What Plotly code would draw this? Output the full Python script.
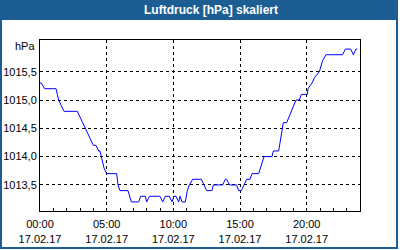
import plotly.graph_objects as go

title_text = "Luftdruck [hPa] skaliert"
unit_label = "hPa"
day = "2017-02-17"

times = [
    "00:00", "00:06", "00:21", "01:12", "01:18", "01:24", "01:36", "01:48", "02:48", "03:00",
    "03:12", "03:21", "03:33", "03:45", "04:00", "04:12", "04:24", "04:30", "04:36", "04:42",
    "04:48", "05:00", "05:45", "05:51", "06:00", "06:36", "06:51", "07:24", "07:33", "07:54",
    "08:00", "08:12", "09:00", "09:12", "09:24", "09:42", "09:54", "10:03", "10:12", "10:24",
    "10:30", "10:39", "10:54", "11:03", "11:12", "11:27", "12:06", "12:18", "12:30", "12:54",
    "13:00", "13:42", "13:54", "14:00", "14:12", "14:45", "14:54", "15:06", "15:18", "15:30",
    "15:45", "15:54", "16:24", "16:48", "17:24", "17:30", "17:54", "18:15", "18:30", "19:12",
    "19:27", "19:36", "20:03", "20:06", "20:24", "20:36", "20:57", "21:03", "21:12", "21:27",
    "22:42", "22:54", "23:18", "23:30", "23:42", "23:48",
]
pressure = [
    1015.3, 1015.3, 1015.2, 1015.2, 1015.1, 1015.0, 1014.9, 1014.8, 1014.8, 1014.7,
    1014.6, 1014.5, 1014.4, 1014.3, 1014.2, 1014.2, 1014.1, 1014.1, 1014.0, 1013.9,
    1013.8, 1013.7, 1013.7, 1013.5, 1013.4, 1013.4, 1013.2, 1013.2, 1013.3, 1013.3,
    1013.2, 1013.3, 1013.3, 1013.2, 1013.3, 1013.3, 1013.2, 1013.3, 1013.3, 1013.2,
    1013.3, 1013.2, 1013.2, 1013.4, 1013.5, 1013.6, 1013.6, 1013.5, 1013.4, 1013.4,
    1013.5, 1013.5, 1013.6, 1013.6, 1013.5, 1013.5, 1013.4, 1013.4, 1013.5, 1013.6,
    1013.6, 1013.7, 1013.7, 1014.0, 1014.0, 1014.1, 1014.1, 1014.6, 1014.6, 1015.0,
    1015.0, 1015.1, 1015.1, 1015.2, 1015.3, 1015.4, 1015.5, 1015.6, 1015.7, 1015.8,
    1015.8, 1015.9, 1015.9, 1015.8, 1015.9, 1015.9,
]

y_ticks = [1013.5, 1014.0, 1014.5, 1015.0, 1015.5]

W, H = 400, 250
ML, MR, MT, MB = 40, 40, 40, 39
PW, PH = W - ML - MR, H - MT - MB


def px(xp):
    return (xp - ML) / PW


def py(yp):
    return (H - MB - yp) / PH


BLUE = "#1c5e94"
FONT = "Liberation Sans"

x_vals = [f"{day} {t}" for t in times]

fig = go.Figure()
fig.add_trace(go.Scatter(x=x_vals, y=pressure, mode="lines",
                         line=dict(color="#0000ff", width=1), hoverinfo="skip"))

fig.update_layout(
    width=W, height=H,
    margin=dict(l=ML, r=MR, t=MT, b=MB, pad=0, autoexpand=False),
    paper_bgcolor="white", plot_bgcolor="white",
    showlegend=False,
    separators=",.",
    font=dict(family=FONT, size=11, color="black"),
)

fig.update_xaxes(
    type="date", automargin=False,
    range=[f"{day} 00:00", "2017-02-18 00:00"],
    tick0=f"{day} 00:00", dtick=5 * 3600 * 1000,
    tickformat="%H:%M<br>%d.%m.%y",
    ticks="inside", ticklen=3, tickcolor="black",
    ticklabelstandoff=3,
    minor=dict(dtick=3600 * 1000, ticks="inside", ticklen=3, tickcolor="black", showgrid=False),
    showgrid=True, gridcolor="black", gridwidth=1, griddash="3px,3px",
    showline=True, linecolor="black", linewidth=1, mirror=True,
    zeroline=False, fixedrange=True,
)
fig.update_yaxes(
    automargin=False,
    range=[1013.04, 1016.06],
    tickvals=y_ticks, tickformat=".1f",
    ticks="", showgrid=True, gridcolor="black", gridwidth=1, griddash="3px,3px",
    showline=True, linecolor="black", linewidth=1, mirror=True,
    zeroline=False, fixedrange=True,
)

# frame and title bar
fig.add_shape(type="rect", xref="paper", yref="paper", layer="below",
              x0=px(0), x1=px(398), y0=py(249), y1=py(0),
              fillcolor=BLUE, line=dict(width=0))
fig.add_shape(type="rect", xref="paper", yref="paper", layer="below",
              x0=px(2), x1=px(396), y0=py(247), y1=py(20),
              fillcolor="white", line=dict(width=0))

fig.add_annotation(text=f"<b>{title_text}</b>", xref="paper", yref="paper",
                   x=px(211), y=py(10), showarrow=False,
                   font=dict(family=FONT, size=12, color="white"),
                   xanchor="center", yanchor="middle")
fig.add_annotation(text=unit_label, xref="paper", yref="paper",
                   x=px(37), y=py(46), showarrow=False,
                   font=dict(family=FONT, size=11, color="black"),
                   xanchor="right", yanchor="middle")

fig.write_html("out.html")
